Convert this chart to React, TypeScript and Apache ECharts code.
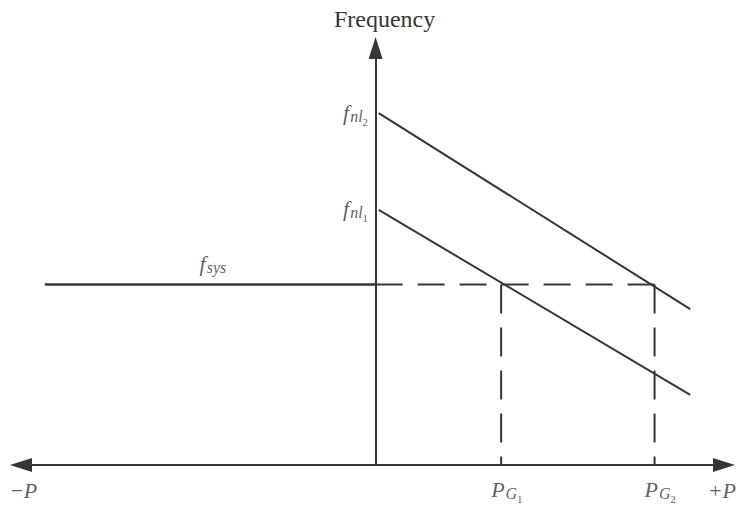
import React, { useEffect, useRef } from 'react';
import * as echarts from 'echarts';

// ---- data (in units of the drawing: P along x, frequency along y) ----
const pRange = [-11.44, 11.24];
const freqRange = [0, 13.45];
const generatorNames = ['1', '2'];
const noLoadFreq = [8.23, 11.35]; // f_nl1, f_nl2
const droopStartP = [0.1, 0.1];
const droopEndP = [10.15, 10.15];
const droopEndFreq = [2.26, 5.03];
const genPower = [4.05, 9.0]; // P_G1, P_G2
const fSys = 5.82;
const fSysStartP = -10.67;
const fSysLabelP = -5.25;
const axisEndLabels = ['\u2212P', '+P'];
const yAxisTitle = 'Frequency';

const INK = '#363636';
const SERIF = '"Liberation Serif", "Times New Roman", "DejaVu Serif", serif';

const rich = {
  f: { fontFamily: SERIF, fontStyle: 'italic', fontSize: 22, lineHeight: 24, color: INK, verticalAlign: 'middle' },
  s: { fontFamily: SERIF, fontStyle: 'italic', fontSize: 16, lineHeight: 16, color: INK, verticalAlign: 'bottom', padding: [0, 0, 0, 1] },
  ss: { fontFamily: SERIF, fontSize: 11, lineHeight: 11, color: INK, verticalAlign: 'bottom', padding: [0, 0, -3, 0] },
};

export default function App() {
  const ref = useRef<HTMLDivElement>(null);
  useEffect(() => {
    if (!ref.current) return;
    const chart = echarts.init(ref.current, undefined, { renderer: 'svg' });
    const lineBase: any = {
      type: 'line',
      symbol: 'none',
      silent: true,
      z: 3,
      lineStyle: { color: INK, width: 2 },
    };
    const labelPoints: any[] = [];
    generatorNames.forEach((g, i) => {
      labelPoints.push({
        value: [0, noLoadFreq[i]],
        label: { show: true, position: 'left', distance: 7, offset: [0, -1], formatter: `{f|f}{s|nl}{ss|${g}}`, rich },
      });
      labelPoints.push({
        value: [genPower[i], 0],
        label: { show: true, position: 'bottom', distance: 12, align: 'left', offset: [-10, 0], formatter: `{f|P}{s|G}{ss|${g}}`, rich },
      });
    });
    labelPoints.push({
      value: [fSysLabelP, fSys],
      label: { show: true, position: 'top', distance: 9, formatter: `{f|f}{s|sys}`, rich },
    });
    labelPoints.push({
      value: [pRange[0], 0],
      label: { show: true, position: 'bottom', distance: 13, align: 'left', offset: [-12, 0], formatter: `{f|${axisEndLabels[0]}}`, rich },
    });
    labelPoints.push({
      value: [pRange[1], 0],
      label: { show: true, position: 'bottom', distance: 13, align: 'right', offset: [12, 0], formatter: `{f|${axisEndLabels[1]}}`, rich },
    });

    chart.setOption({
      animation: false,
      backgroundColor: '#ffffff',
      grid: { left: 21, right: 16, top: 48, bottom: 46, containLabel: false },
      xAxis: {
        type: 'value',
        min: pRange[0],
        max: pRange[1],
        axisLine: { show: true, onZero: true, symbol: ['triangle', 'triangle'], symbolSize: [14, 22], lineStyle: { color: INK, width: 2 } },
        axisTick: { show: false },
        axisLabel: { show: false },
        splitLine: { show: false },
      },
      yAxis: {
        type: 'value',
        min: freqRange[0],
        max: freqRange[1],
        name: yAxisTitle,
        nameLocation: 'end',
        nameGap: 17,
        nameTextStyle: { fontFamily: SERIF, fontSize: 24, color: INK, padding: [0, 0, 0, 18] },
        axisLine: { show: true, onZero: true, symbol: ['none', 'triangle'], symbolSize: [14, 22], lineStyle: { color: INK, width: 2 } },
        axisTick: { show: false },
        axisLabel: { show: false },
        splitLine: { show: false },
      },
      series: [
        { ...lineBase, name: 'fsys', data: [[fSysStartP, fSys], [0, fSys]], lineStyle: { color: INK, width: 2.5 } },
        { ...lineBase, name: 'fsys-dashed', data: [[0, fSys], [genPower[1], fSys]], lineStyle: { color: INK, width: 2, type: [27, 15] } },
        ...generatorNames.map((g, i) => ({
          ...lineBase,
          name: 'droop' + g,
          data: [[droopStartP[i], noLoadFreq[i]], [droopEndP[i], droopEndFreq[i]]],
        })),
        ...generatorNames.map((g, i) => ({
          ...lineBase,
          name: 'PG' + g,
          data: [[genPower[i], fSys], [genPower[i], 0]],
          lineStyle: { color: INK, width: 2, type: [29, 14] },
        })),
        {
          type: 'scatter',
          name: 'labels',
          silent: true,
          symbolSize: 1,
          itemStyle: { color: 'rgba(0,0,0,0)' },
          data: labelPoints,
          z: 5,
        },
      ],
    });
    return () => chart.dispose();
  }, []);
  return (
    <div
      ref={ref}
      style={{ position: 'absolute', left: 0, top: 0, width: 740, height: 511, overflow: 'visible' }}
    />
  );
}
